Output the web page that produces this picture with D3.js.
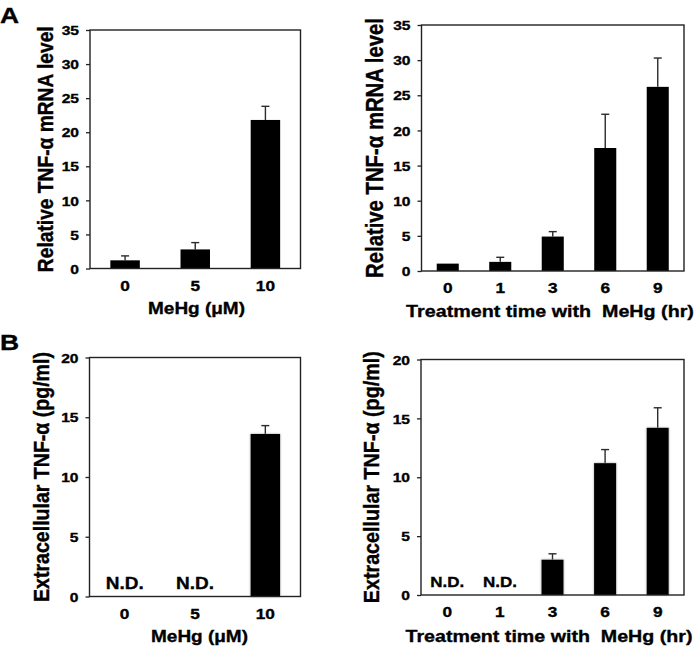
<!DOCTYPE html>
<html>
<head>
<meta charset="utf-8">
<script src="https://cdn.jsdelivr.net/npm/d3@7"></script>
<style>
  body { margin: 0; background: #fff; }
  text {
    font-family: "Liberation Sans", Arial, sans-serif;
    font-weight: bold;
    fill: #000;
    stroke: #000;
    stroke-width: 0.35px;
  }
</style>
</head>
<body>
<div id="chart"></div>
<script>
const doseLabels = ["0", "5", "10"];
const timeLabels = ["0", "1", "3", "6", "9"];

// relative TNF-a mRNA level (mean, sd)
const mrnaByDose = [1.2, 2.8, 21.8];
const mrnaByDoseSd = [0.65, 1.0, 2.0];
const mrnaByTime = [1.05, 1.3, 4.9, 17.5, 26.2];
const mrnaByTimeSd = [0, 0.65, 0.7, 4.8, 4.1];

// extracellular TNF-a (pg/ml), null = N.D.
const tnfByDose = [null, null, 13.6];
const tnfByDoseSd = [null, null, 0.7];
const tnfByTime = [null, null, 3.0, 11.2, 14.2];
const tnfByTimeSd = [null, null, 0.5, 1.15, 1.7];

const mrnaTicks = [0, 5, 10, 15, 20, 25, 30, 35];
const tnfTicks = [0, 5, 10, 15, 20];

const width = 697;
const height = 647;

const panels = [
  {
    categories: doseLabels, values: mrnaByDose, errors: mrnaByDoseSd,
    ticks: mrnaTicks, yMax: 35,
    left: 90, right: 300.5, top: 30, bottom: 268.5,
    yTitle: "Relative TNF-\u03b1 mRNA level", yTitleX: 53, yTitleLen: 246,
    xTitle: "MeHg (\u03bcM)", xTitleY: 314, xTitleLen: 97, xTitleCx: 196.5,
  },
  {
    categories: timeLabels, values: mrnaByTime, errors: mrnaByTimeSd,
    ticks: mrnaTicks, yMax: 35,
    left: 421.5, right: 684, top: 25, bottom: 271,
    yTitle: "Relative TNF-\u03b1 mRNA level", yTitleX: 383, yTitleLen: 260,
    xTitle: "Treatment time with  MeHg (hr)", xTitleY: 317, xTitleLen: 288, xTitleCx: 550,
  },
  {
    categories: doseLabels, values: tnfByDose, errors: tnfByDoseSd,
    ticks: tnfTicks, yMax: 20, shadow: true, ndSize: 17, ndLen: 38,
    left: 89.5, right: 300.5, top: 357.5, bottom: 596.5,
    yTitle: "Extracellular TNF-\u03b1 (pg/ml)", yTitleX: 49, yTitleLen: 250,
    xTitle: "MeHg (\u03bcM)", xTitleY: 641.5, xTitleLen: 97, xTitleCx: 199.5,
  },
  {
    categories: timeLabels, values: tnfByTime, errors: tnfByTimeSd,
    ticks: tnfTicks, yMax: 20, shadow: true, ndSize: 15, ndLen: 34,
    left: 421, right: 684, top: 359.5, bottom: 595,
    yTitle: "Extracellular TNF-\u03b1 (pg/ml)", yTitleX: 379, yTitleLen: 252,
    xTitle: "Treatment time with  MeHg (hr)", xTitleY: 642, xTitleLen: 287, xTitleCx: 549,
  },
];

// the original figure is stretched sideways: widen glyphs with a transform
const place = (sel, x, y, sx, rot) => {
  sel
    .attr("x", 0)
    .attr("y", 0)
    .attr(
      "transform",
      `translate(${x},${y}) scale(${sx},1)` + (rot ? ` rotate(${rot})` : "")
    );
};

const fitWidth = (sel, x, y, target, rot) => {
  sel.each(function () {
    const w = this.getComputedTextLength();
    d3.select(this).call(place, x, y, rot ? 1 : target / w, rot);
  });
};

const drawPanel = (svg, p) => {
  const g = svg.append("g");

  const x = d3.scaleBand().domain(p.categories).range([p.left, p.right]);
  const y = d3.scaleLinear().domain([0, p.yMax]).range([p.bottom, p.top]);
  const barWidth = x.bandwidth() * 0.42;
  const cx = (c) => x(c) + x.bandwidth() / 2;

  const rows = p.categories.map((c, i) => ({
    cat: c,
    value: p.values[i],
    err: p.errors[i],
  }));
  const measured = rows.filter((d) => d.value !== null);

  // error bars (upper half only, with cap)
  const errG = g.append("g").attr("stroke", "#2b2b2b").attr("stroke-width", 1.4);
  errG
    .selectAll(".err-line")
    .data(measured.filter((d) => d.err > 0))
    .join("line")
    .attr("x1", (d) => cx(d.cat))
    .attr("x2", (d) => cx(d.cat))
    .attr("y1", (d) => y(d.value))
    .attr("y2", (d) => y(d.value + d.err));
  errG
    .selectAll(".err-cap")
    .data(measured.filter((d) => d.err > 0))
    .join("line")
    .attr("x1", (d) => cx(d.cat) - 4)
    .attr("x2", (d) => cx(d.cat) + 4)
    .attr("y1", (d) => y(d.value + d.err))
    .attr("y2", (d) => y(d.value + d.err));

  g.selectAll(".bar")
    .data(measured)
    .join("rect")
    .attr("class", "bar")
    .attr("x", (d) => cx(d.cat) - barWidth / 2)
    .attr("y", (d) => y(d.value))
    .attr("width", barWidth)
    .attr("height", (d) => y(0) - y(d.value))
    .attr("fill", "#000")
    .attr("filter", p.shadow ? "url(#soft)" : null);

  g.selectAll(".nd")
    .data(rows.filter((d) => d.value === null))
    .join("text")
    .attr("class", "nd")
    .attr("text-anchor", "middle")
    .style("font-size", `${p.ndSize}px`)
    .text("N.D.")
    .each(function (d) {
      d3.select(this).call(fitWidth, cx(d.cat), p.bottom - 8, p.ndLen);
    });

  // y axis
  const yAxis = d3
    .axisLeft(y)
    .tickValues(p.ticks)
    .tickSize(4)
    .tickPadding(7)
    .tickFormat(d3.format("d"));

  g.append("g")
    .attr("transform", `translate(${p.left},0)`)
    .call(yAxis)
    .call((a) => {
      a.select(".domain").remove();
      a.selectAll("line").attr("stroke", "#222").attr("stroke-width", 1.3);
      a.selectAll("text")
        .attr("font-family", null)
        .attr("font-size", null)
        .attr("dy", "0.36em")
        .style("font-size", "13px")
        .call(place, -11, 0, 1.2);
    });

  // frame
  g.append("rect")
    .attr("x", p.left)
    .attr("y", p.top)
    .attr("width", p.right - p.left)
    .attr("height", p.bottom - p.top)
    .attr("fill", "none")
    .attr("stroke", "#222")
    .attr("stroke-width", 1.4);

  // x tick labels
  g.selectAll(".x-tick")
    .data(p.categories)
    .join("text")
    .attr("class", "x-tick")
    .attr("text-anchor", "middle")
    .style("font-size", "15px")
    .text((d) => d)
    .each(function (d) {
      d3.select(this).call(place, cx(d), p.bottom + 22, 1.15);
    });

  // axis titles
  g.append("text")
    .attr("text-anchor", "middle")
    .style("font-size", "17px")
    .style("white-space", "pre")
    .text(p.xTitle)
    .call(fitWidth, p.xTitleCx, p.xTitleY, p.xTitleLen);

  // rotated title: font size from its length, widened across
  const yt = g
    .append("text")
    .attr("text-anchor", "middle")
    .style("font-size", "20px")
    .text(p.yTitle);
  const natural = yt.node().getComputedTextLength();
  yt.style("font-size", `${(20 * p.yTitleLen) / natural}px`).call(
    place,
    p.yTitleX,
    (p.top + p.bottom) / 2,
    1.15,
    -90
  );
};

const svg = d3
  .select("#chart")
  .append("svg")
  .attr("width", width)
  .attr("height", height);

svg
  .append("defs")
  .append("filter")
  .attr("id", "soft")
  .attr("x", "-30%")
  .attr("y", "-30%")
  .attr("width", "160%")
  .attr("height", "160%")
  .append("feDropShadow")
  .attr("dx", 0)
  .attr("dy", 0)
  .attr("stdDeviation", 1.3)
  .attr("flood-color", "#777")
  .attr("flood-opacity", 0.7);

panels.forEach((p) => drawPanel(svg, p));

svg.append("text").style("font-size", "22px").text("A").call(place, 0, 23, 1.2);
svg.append("text").style("font-size", "22px").text("B").call(place, 0, 350, 1.2);
</script>
</body>
</html>
